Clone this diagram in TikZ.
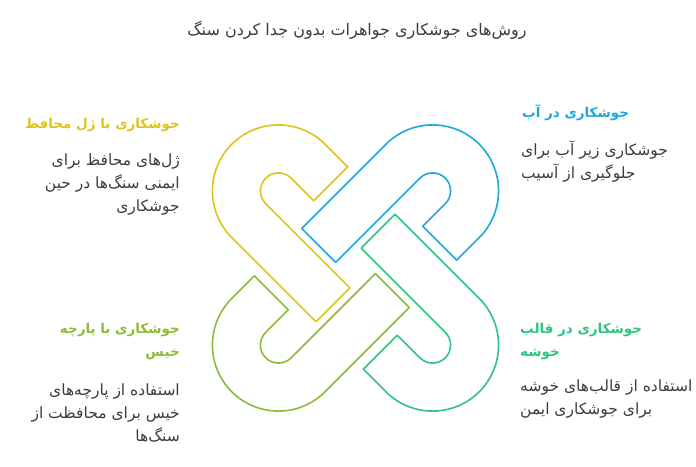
\documentclass[tikz,border=0pt]{standalone}
\usepackage{fontspec}
\TeXXeTstate=1
\newfontfamily\fa[Script=Arabic]{DejaVu Sans}
\newcommand\rl[1]{\beginR#1\endR}
\definecolor{yellowc}{RGB}{221,196,27}
\definecolor{bluec}{RGB}{29,168,221}
\definecolor{greenc}{RGB}{45,196,127}
\definecolor{limec}{RGB}{140,187,56}
\definecolor{textgray}{RGB}{60,60,60}
\tikzset{
  hook/.style={line width=1.6pt, line join=round},
  head/.style={inner sep=0pt, font=\fa\bfseries\fontsize{13.5}{23}\selectfont},
  body/.style={inner sep=0pt, text=textgray, font=\fa\fontsize{15.5}{23}\selectfont},
  lefttxt/.style={anchor=east, align=right},
  righttxt/.style={anchor=west, align=left},
}
\newcommand\hookpath{(-109,66) -- (-77,66) -- (-77,18) -- (-109,18) arc (90:270:18pt) -- (10,-18) -- (10,-66) -- (-109,-66) arc (270:90:66pt) -- cycle}
\begin{document}
\begin{tikzpicture}[x=1pt,y=-1pt]
\useasboundingbox (0,0) rectangle (696,466);
\coordinate (O) at (355.5,268);
\begin{scope}[shift={(355.5,268)}, y={(0pt,1pt)}, rotate=-45]
  \draw[hook, yellowc] \hookpath;
\end{scope}
\begin{scope}[shift={(355.5,268)}, y={(0pt,1pt)}, rotate=-135]
  \draw[hook, bluec] \hookpath;
\end{scope}
\begin{scope}[shift={(355.5,268)}, y={(0pt,1pt)}, rotate=135]
  \draw[hook, greenc] \hookpath;
\end{scope}
\begin{scope}[shift={(355.5,268)}, y={(0pt,1pt)}, rotate=45]
  \draw[hook, limec] \hookpath;
\end{scope}
\node[inner sep=0pt, text=textgray, font=\fa\fontsize{16}{18}\selectfont] (title) at (357,30) {\rl{روش^^^^200cهای جوشکاری جواهرات بدون جدا کردن سنگ}};
\node[head, lefttxt, text=yellowc] (h1) at (180,125) {\rl{جوشکاری با ژل محافظ}};
\node[body, lefttxt] (b1) at (180,184.5) {\rl{ژل^^^^200cهای محافظ برای}\\ \rl{ایمنی سنگ^^^^200cها در حین}\\ \rl{جوشکاری}};
\node[head, righttxt, text=bluec] (h2) at (522,113) {\rl{جوشکاری در آب}};
\node[body, righttxt] (b2) at (521,161.5) {\rl{جوشکاری زیر آب برای}\\ \rl{جلوگیری از آسیب}};
\node[head, lefttxt, text=limec] (h3) at (180,341.5) {\rl{جوشکاری با پارچه}\\ \rl{خیس}};
\node[body, lefttxt] (b3) at (180,413) {\rl{استفاده از پارچه^^^^200cهای}\\ \rl{خیس برای محافظت از}\\ \rl{سنگ^^^^200cها}};
\node[head, righttxt, text=greenc] (h4) at (520,341.5) {\rl{جوشکاری در قالب}\\ \rl{خوشه}};
\node[body, righttxt] (b4) at (520,399) {\rl{استفاده از قالب^^^^200cهای خوشه}\\ \rl{برای جوشکاری ایمن}};
\end{tikzpicture}
\end{document}
